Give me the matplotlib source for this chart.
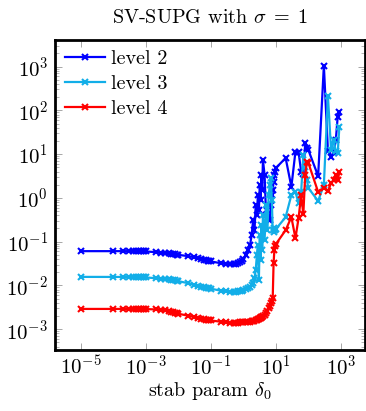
import matplotlib
matplotlib.use('Agg')
import matplotlib.pyplot as plt
from matplotlib.ticker import LogLocator, NullLocator, NullFormatter

plt.rcParams['font.family'] = 'cmr10'
plt.rcParams['mathtext.fontset'] = 'cm'
plt.rcParams['axes.formatter.use_mathtext'] = True

# stabilisation parameter values
stab = [1e-5,
        1e-4, 2e-4, 3e-4, 4e-4, 5e-4, 6e-4, 7e-4, 8e-4, 9e-4,
        1e-3, 2e-3, 3e-3, 4e-3, 5e-3, 6e-3, 7e-3, 8e-3, 9e-3,
        1e-2, 2e-2, 3e-2, 4e-2, 5e-2, 6e-2, 7e-2, 8e-2, 9e-2,
        0.1, 0.2, 0.3, 0.4, 0.5, 0.6, 0.7, 0.8, 0.9,
        1.0, 1.2, 1.4, 1.6, 1.8, 2.0, 2.2, 2.4, 2.6, 2.8, 3.0, 3.2, 3.4, 3.6, 3.8, 4.0,
        4.5, 5.0, 5.5, 6.0, 6.5, 7.0, 7.5, 8.0, 8.5, 9.0, 9.5,
        10, 20, 30, 40, 50, 60, 70, 80, 90,
        100, 200, 300, 400, 500, 600, 700, 800, 900]

level2 = [0.0606,
          0.0606, 0.0606, 0.0606, 0.0606, 0.0606, 0.0604, 0.0602, 0.0600, 0.0598,
          0.0596, 0.0575, 0.0560, 0.0546, 0.0537, 0.0526, 0.0518, 0.0512, 0.0504,
          0.0499, 0.0466, 0.0442, 0.0419, 0.0402, 0.0387, 0.0377, 0.0367, 0.0358,
          0.0352, 0.0322, 0.0314, 0.0306, 0.0306, 0.0314, 0.0322, 0.0340, 0.0358,
          0.0398, 0.0491, 0.0639, 0.0832, 0.141, 0.310, 0.183, 0.684, 0.404, 1.16,
          0.526, 1.96, 0.890, 3.32, 1.51, 7.33,
          3.32, 0.404, 0.526, 0.310, 0.310, 0.684, 1.16, 1.51, 2.33, 3.32, 3.96,
          4.81, 8.14, 1.79, 11.3, 11.0, 3.96, 3.50, 17.7, 13.8,
          12.4, 3.15, 1050, 12.0, 8.72, 10.4, 21.0, 71.7, 93.4]

level3 = [0.01565,
          0.0156, 0.0156, 0.0156, 0.0156, 0.0156, 0.0156, 0.0155, 0.0155, 0.0154,
          0.0152, 0.0146, 0.0143, 0.0140, 0.0137, 0.0135, 0.0132, 0.0130, 0.0127,
          0.0125, 0.01122, 0.01037, 0.00985, 0.00934, 0.00910, 0.00886, 0.00862, 0.00850,
          0.00841, 0.00757, 0.00737, 0.00718, 0.00718, 0.00718, 0.00728, 0.00737, 0.00757,
          0.00777, 0.00819, 0.00862, 0.00910, 0.0101, 0.0112, 0.0146, 0.0223, 0.0491, 0.0832,
          0.0132, 0.141, 0.0377, 0.238, 0.0639, 0.404,
          0.108, 0.684, 0.183, 1.16, 1.96, 2.84, 0.890, 0.183, 0.204, 0.165, 0.183,
          0.193, 0.364, 1.16, 1.36, 0.760, 1.36, 9.54, 5.07, 2.55,
          1.68, 0.845, 2.0, 212, 12.4, 21.0, 11.5, 10.5, 41.7]

level4 = [0.00290,
          0.00290, 0.00290, 0.00290, 0.00290, 0.00290, 0.00289, 0.00289, 0.00288, 0.00288,
          0.00288, 0.00282, 0.00275, 0.00268, 0.00260, 0.00252, 0.00245, 0.00238, 0.00231,
          0.00225, 0.00203, 0.00190, 0.00180, 0.00173, 0.00168, 0.00164, 0.00161, 0.00160,
          0.00158, 0.00148, 0.00143, 0.00140, 0.00140, 0.00140, 0.00141, 0.00144, 0.00146,
          0.00148, 0.00148, 0.00148, 0.00148, 0.00152, 0.00152, 0.00156, 0.00160, 0.00164, 0.00169,
          0.00173, 0.00178, 0.00182, 0.00187, 0.00192, 0.00197,
          0.00208, 0.00231, 0.00257, 0.00301, 0.00334, 0.00391, 0.00435, 0.00509, 0.0322, 0.0639, 0.0789,
          0.0877, 0.183, 0.364, 0.120, 0.345, 1.16, 0.426, 3.32, 6.60,
          6.3, 1.36, 1.68, 1.43, 2.18, 2.55, 3.32, 2.55, 3.89]

series = [("level 2", level2, "#0000ff"),
          ("level 3", level3, "#12aee8"),
          ("level 4", level4, "#ff0000")]

fig = plt.figure(figsize=(3.66, 4.11), dpi=100)
ax = fig.add_axes([0.150, 0.148, 0.847, 0.755])

for name, vals, col in series:
    ax.plot(stab, vals, color=col, marker='x', markersize=5, markeredgewidth=1.5,
            linewidth=1.6, label=name)

ax.set_xscale('log')
ax.set_yscale('log')
ax.set_xlim(10**-5.8, 10**3.74)
ax.set_ylim(10**-3.48, 10**3.61)

ax.set_xticks([1e-5, 1e-3, 1e-1, 1e1, 1e3])
ax.xaxis.set_minor_locator(NullLocator())
ax.yaxis.set_major_locator(LogLocator(base=10, numticks=20))
ax.yaxis.set_minor_locator(LogLocator(base=10, subs=range(2, 10), numticks=20))
ax.yaxis.set_minor_formatter(NullFormatter())

ax.tick_params(which='both', direction='in', top=True, right=True, color='#999999',
               labelsize=15, pad=5)
ax.tick_params(axis='x', pad=3)
ax.tick_params(which='major', length=5, width=0.6)
ax.tick_params(which='minor', length=3, width=0.5)
for s in ax.spines.values():
    s.set_linewidth(2.0)

ax.set_title(r'SV-SUPG with $\sigma\;=\;1$', fontsize=14.5, pad=12)
ax.set_xlabel(r'stab param $\delta_0$', fontsize=14.5, labelpad=1)

ax.legend(loc='upper left', frameon=False, fontsize=14.5, handlelength=2.0,
          handletextpad=0.3, labelspacing=0.35, borderaxespad=0.1)

fig.savefig('out.png', dpi=100)
